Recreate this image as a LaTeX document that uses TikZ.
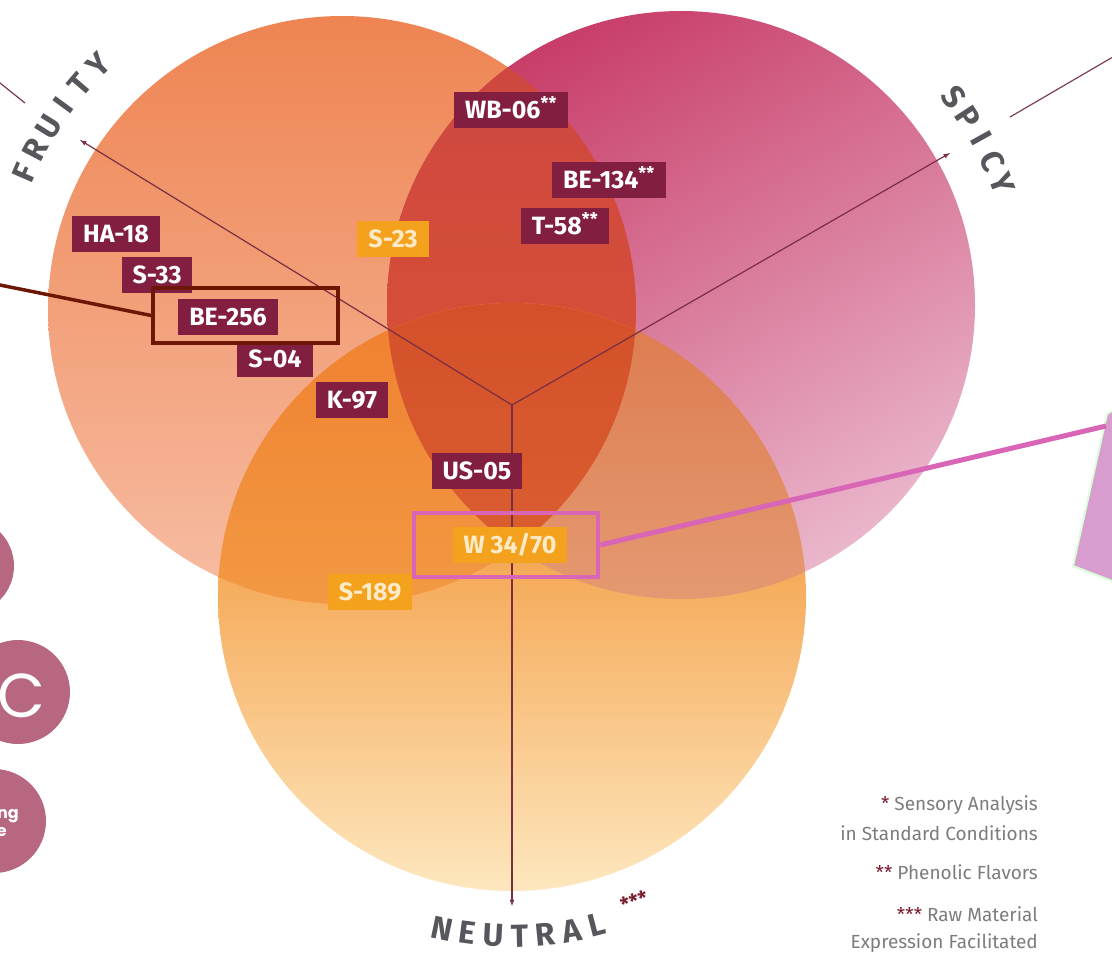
\documentclass[tikz,border=0pt]{standalone}
\usepackage{fontspec}
\setmainfont{Fira Sans}
\newfontfamily\roundfont{Poppins}
\usetikzlibrary{calc}

\definecolor{fruitytop}{HTML}{EE8452}
\definecolor{fruitybot}{HTML}{F7BDA3}
\definecolor{spicytop}{HTML}{C83E69}
\definecolor{spicybot}{HTML}{EAB6CC}
\definecolor{neutraltop}{HTML}{EF7806}
\definecolor{neutralbot}{HTML}{FDE7BE}
\definecolor{fsup}{HTML}{CE4642}
\definecolor{fsdown}{HTML}{D95530}
\definecolor{fnup}{HTML}{EF8030}
\definecolor{fndown}{HTML}{F6B055}
\definecolor{snup}{HTML}{DD7A4E}
\definecolor{sndown}{HTML}{ECB894}
\definecolor{allup}{HTML}{D4502A}
\definecolor{alldown}{HTML}{E27038}
\definecolor{strainred}{HTML}{821F40}
\definecolor{strainyellow}{HTML}{F4A21E}
\definecolor{straintext}{HTML}{FDEBC8}
\definecolor{axisline}{HTML}{7A2E42}
\definecolor{axisgray}{HTML}{56575C}
\definecolor{notegray}{HTML}{7C7C7C}
\definecolor{stardark}{HTML}{7A1F30}
\definecolor{hlbrown}{HTML}{6E1606}
\definecolor{hlpink}{HTML}{D865B6}
\definecolor{mauve}{HTML}{B7677F}
\definecolor{lilac}{HTML}{D69DCE}
\def\circrad{294pt}

\begin{document}
\begin{tikzpicture}[x=1pt,y=-1pt,
    strain/.style={fill=strainred,text=white,font=\fontsize{25}{25}\selectfont\bfseries,
      inner xsep=11pt,inner ysep=0pt,minimum height=36pt,text height=17pt,text depth=0pt},
    strainyel/.style={strain,fill=strainyellow,text=straintext},
    axisletter/.style={text=axisgray,font=\fontsize{32}{32}\selectfont\bfseries,inner sep=0pt},
    note/.style={anchor=base east,text=notegray,font=\fontsize{19}{19}\selectfont,inner sep=0pt},
    highlight/.style={draw,line width=3.5pt,inner sep=0pt}]
  \clip (0,0) rectangle (1112,954);
  \coordinate (fruity) at (342,310);
  \coordinate (spicy) at (681,305);
  \coordinate (neutral) at (512,597);
  \coordinate (hub) at (512,405);

  % circulos
  \shade[top color=fruitytop,bottom color=fruitybot] (fruity) circle[radius=\circrad];
  \shade[top color=spicytop,bottom color=spicybot,shading angle=30] (spicy) circle[radius=\circrad];
  \shade[top color=neutraltop,bottom color=neutralbot] (neutral) circle[radius=\circrad];
  \begin{scope}
    \clip (fruity) circle[radius=\circrad];
    \shade[top color=fsup,bottom color=fsdown] (spicy) circle[radius=\circrad];
  \end{scope}
  \begin{scope}
    \clip (fruity) circle[radius=\circrad];
    \shade[top color=fnup,bottom color=fndown] (neutral) circle[radius=\circrad];
  \end{scope}
  \begin{scope}
    \clip (spicy) circle[radius=\circrad];
    \shade[top color=snup,bottom color=sndown] (neutral) circle[radius=\circrad];
  \end{scope}
  \begin{scope}
    \clip (fruity) circle[radius=\circrad];
    \clip (spicy) circle[radius=\circrad];
    \shade[top color=allup,bottom color=alldown] (neutral) circle[radius=\circrad];
  \end{scope}

  % ejes
  \coordinate (fruitytip) at (80,140);
  \coordinate (spicytip) at (950,153);
  \coordinate (neutraltip) at (512,906);
  \begin{scope}[->,>=latex,axisline,line width=1.2pt]
    \draw (hub) -- (fruitytip);
    \draw (hub) -- (spicytip);
    \draw (hub) -- (neutraltip);
  \end{scope}
  \coordinate (fruitylead) at (-5,79);
  \coordinate (fruitylead2) at (25,103);
  \coordinate (spicylead) at (1010,117);
  \coordinate (spicylead2) at (1118,54);
  \draw[axisline!80!gray,line width=1.2pt] (fruitylead) -- (fruitylead2);
  \draw[axisline!80!gray,line width=1.2pt] (spicylead) -- (spicylead2);

  \foreach \ch/\a in {F/156.6,R/152.3,U/148.0,I/143.7,T/139.4,Y/134.8}
    \node[axisletter,rotate=\a-90] (fr\ch) at ($(fruity)+(\a:346pt)$) {\ch};
  \foreach \ch/\a in {S/37.3,P/33.1,I/29.0,C/24.8,Y/20.7}
    \node[axisletter,rotate=\a-90] (sp\ch) at ($(spicy)+(\a:343pt)$) {\ch};
  \foreach \ch/\n/\a in {N/1/-101.9,E/2/-97.5,U/3/-93.1,T/4/-88.7,R/5/-84.3,A/6/-79.9,L/7/-75.5}
    \node[axisletter,rotate=\a+90] (ne\n) at ($(neutral)+(\a:339pt)$) {\ch};
  \node[text=stardark,font=\fontsize{20}{20}\selectfont\bfseries,rotate=17,inner sep=0pt] (nestars) at (634,901) {***};

  % cepas
  \node[strain] (wb06) at (511,110) {WB-06\textsuperscript{**}};
  \node[strain] (be134) at (609,180) {BE-134\textsuperscript{**}};
  \node[strain] (t58) at (565,226) {T-58\textsuperscript{**}};
  \node[strainyel] (s23) at (393,239) {S-23};
  \node[strain] (ha18) at (116,234) {HA-18};
  \node[strain] (s33) at (157,275) {S-33};
  \node[strain] (be256) at (228,317) {BE-256};
  \node[strain] (s04) at (275,359) {S-04};
  \node[strain] (k97) at (352,400) {K-97};
  \node[strain] (us05) at (477,471) {US-05};
  \node[strainyel] (w3470) at (510,545) {W 34/70};
  \node[strainyel] (s189) at (370,592) {S-189};

  % marcas
  \node[highlight,draw=hlbrown,minimum width=185pt,minimum height=55pt] (hlbe) at (245.5,315.5) {};
  \node[highlight,draw=hlpink,line width=4.5pt,minimum width=184pt,minimum height=64pt] (hlw) at (506,545) {};
  \coordinate (leadbe) at (-10,283);
  \draw[hlbrown,line width=3.5pt] (leadbe) -- (hlbe.west);
  \fill[lilac,draw=white!85!green,line width=2pt] (1107,414) -- (1073,566) -- (1125,586) -- (1130,400) -- cycle;
  \coordinate (lilactip) at (1106,426);
  \draw[hlpink,line width=5pt] (hlw.east) -- (lilactip);

  % botones a la izquierda
  \fill[mauve] (-34,566) circle[radius=48pt];
  \fill[mauve] (18,692) circle[radius=52pt];
  \fill[mauve] (-6,821) circle[radius=52pt];
  \node[anchor=east,text=white,font=\roundfont\fontsize{62}{62}\selectfont,inner sep=0pt] (btnc) at (46,696) {C};
  \node[anchor=base east,text=white,font=\roundfont\fontsize{16}{16}\selectfont\bfseries,inner sep=0pt] (btnng) at (19,818) {ng};
  \node[anchor=base east,text=white,font=\roundfont\fontsize{16}{16}\selectfont\bfseries,inner sep=0pt] (btne) at (7,836) {e};

  % notas
  \node[note] (n1) at (1038,810) {{\color{stardark}*} Sensory Analysis};
  \node[note] (n2) at (1038,840) {in Standard Conditions};
  \node[note] (n3) at (1038,879) {{\color{stardark}**} Phenolic Flavors};
  \node[note] (n4) at (1038,921) {{\color{stardark}***} Raw Material};
  \node[note] (n5) at (1038,948) {Expression Facilitated};
\end{tikzpicture}
\end{document}
